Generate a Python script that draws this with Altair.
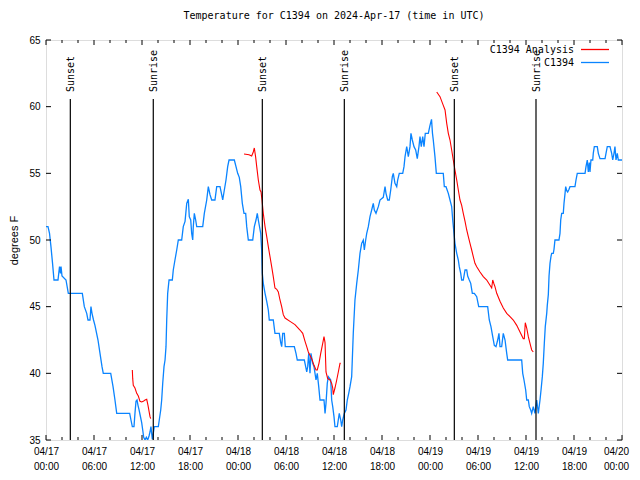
import altair as alt
import pandas as pd

TITLE = "Temperature for C1394 on 2024-Apr-17 (time in UTC)"
START = "2024-04-17T00:00:00Z"
FONT = "DejaVu Sans Mono"

# Observed C1394 temperature (hours after 04/17 00:00 UTC, degrees F)
obs_hours = [0.00, 0.25, 0.44, 0.62, 0.81, 1.00, 1.50, 1.69, 1.81, 1.88, 2.00, 2.50, 2.79, 4.54, 4.79,
             5.09, 5.25, 5.50, 5.62, 5.75, 5.94, 6.12, 6.50, 6.75, 7.00, 7.16, 8.09, 8.38, 8.62, 8.84,
             10.46, 10.62, 10.79, 11.00, 11.12, 11.25, 11.38, 11.50, 11.62, 11.79, 11.96, 12.09, 12.21,
             12.38, 12.54, 12.71, 12.88, 13.00, 13.12, 13.21, 13.29, 13.41, 13.54, 14.04, 14.16, 14.34,
             14.46, 14.59, 14.75, 14.88, 15.00, 15.09, 15.21, 15.38, 15.79, 15.91, 16.12, 16.34, 16.54,
             16.96, 17.16, 17.38, 17.59, 17.79, 17.91, 18.09, 18.21, 18.34, 18.41, 18.54, 18.71, 18.84,
             19.59, 19.79, 20.09, 20.29, 20.50, 20.71, 21.12, 21.34, 21.75, 21.96, 22.09, 22.25, 22.50,
             22.71, 22.88, 23.54, 23.75, 23.96, 24.16, 24.34, 24.54, 24.75, 24.96, 25.09, 25.29, 25.84,
             26.04, 26.25, 26.41, 26.54, 26.84, 26.96, 27.04, 27.16, 27.38, 27.59, 27.79, 27.91, 28.41,
             28.62, 29.16, 29.34, 29.46, 29.59, 29.79, 29.91, 31.04, 31.25, 31.41, 32.29, 32.46, 32.59,
             32.71, 32.84, 33.00, 33.12, 33.34, 33.50, 33.75, 33.91, 34.09, 34.25, 34.75, 34.88, 35.00,
             35.16, 35.29, 35.59, 35.71, 35.84, 36.00, 36.12, 36.41, 36.66, 36.84, 36.96, 37.09, 37.29,
             37.50, 37.66, 37.84, 38.00, 38.21, 38.41, 38.62, 38.84, 39.04, 39.25, 39.46, 39.66, 39.79,
             39.96, 40.09, 40.29, 40.50, 40.71, 40.91, 41.04, 41.25, 41.54, 41.75, 42.16, 42.38, 42.50,
             42.71, 42.91, 43.09, 43.29, 43.41, 43.62, 43.84, 43.96, 44.16, 44.59, 44.75, 44.88, 45.09,
             45.29, 45.50, 45.62, 45.79, 46.00, 46.21, 46.41, 46.62, 46.75, 46.91, 47.09, 47.25, 47.41,
             47.79, 48.00, 48.19, 48.31, 48.41, 48.62, 48.79, 49.66, 49.79, 50.00, 50.29, 50.50, 50.71,
             50.84, 51.00, 51.12, 51.34, 51.54, 51.66, 51.84, 51.96, 52.16, 52.38, 52.59, 52.71, 52.91,
             53.09, 53.29, 53.54, 53.84, 54.09, 55.21, 55.41, 55.62, 55.84, 56.04, 56.25, 56.46, 56.62,
             56.75, 56.96, 57.16, 57.38, 57.59, 57.71, 59.46, 59.59, 59.75, 59.96, 60.09, 60.29, 60.41,
             60.59, 60.71, 60.91, 61.12, 61.34, 61.54, 61.75, 61.88, 62.04, 62.16, 62.29, 62.41, 62.59,
             62.66, 62.79, 62.88, 63.00, 63.12, 63.21, 63.41, 63.50, 63.62, 64.12, 64.25, 64.34, 64.46,
             64.66, 64.75, 64.88, 64.96, 65.09, 65.21, 65.38, 65.50, 66.12, 66.25, 66.41, 67.38, 67.50,
             67.66, 67.79, 67.91, 68.00, 68.12, 68.34, 68.41, 68.54, 68.91, 69.04, 69.25, 69.88, 70.00,
             70.16, 70.50, 70.71, 70.84, 71.00, 71.12, 71.25, 71.41, 71.54, 72.00]
obs_temps = [51.0, 51.0, 50.5, 49.5, 48.3, 47.0, 47.0, 48.0, 47.5, 48.0, 47.3, 47.0, 46.0, 46.0, 45.0,
             44.5, 44.0, 44.0, 45.0, 44.5, 44.0, 43.6, 42.5, 41.5, 40.5, 40.0, 40.0, 39.0, 38.0, 37.0,
             37.0, 36.5, 36.0, 36.0, 37.0, 37.9, 38.0, 37.6, 37.3, 36.8, 36.3, 35.75, 35.2,
             35.0, 35.2, 35.0, 35.3, 35.6, 36.0, 35.5, 35.05, 35.5, 36.0, 36.0, 36.5, 37.25,
             38.0, 39.25, 40.5, 41.0, 42.0, 44.0, 46.0, 47.0, 47.0, 47.75, 48.5, 49.25, 50.0,
             50.0, 51.0, 51.4, 52.75, 53.05, 51.75, 51.5, 50.5, 50.0, 51.0, 52.0, 51.5, 51.0,
             51.0, 52.0, 53.0, 54.0, 53.4, 53.0, 53.0, 54.0, 54.0, 53.4, 53.0, 53.6, 54.5,
             55.5, 56.0, 56.0, 55.5, 55.0, 54.7, 54.0, 52.75, 52.0, 52.0, 51.0, 50.0, 50.0,
             51.0, 51.5, 52.0, 51.5, 50.5, 49.25, 47.5, 46.75, 46.0, 45.4, 44.75, 44.0, 44.0,
             43.0, 43.0, 42.3, 42.0, 43.0, 43.0, 42.0, 42.0, 41.5, 41.0, 41.0, 40.5, 40.1,
             40.5, 41.5, 40.0, 41.5, 40.75, 40.5, 39.5, 40.0, 39.0, 38.0, 38.0, 37.0, 37.75,
             39.25, 39.75, 39.5, 38.0, 37.5, 36.75, 36.0, 36.0, 37.0, 36.5, 36.0, 36.5, 37.0,
             37.25, 38.0, 38.5, 39.0, 39.75, 43.0, 45.5, 46.75, 47.75, 49.0, 49.75, 50.0, 49.25,
             50.0, 50.5, 51.0, 51.75, 52.25, 52.75, 52.25, 52.0, 52.5, 53.0, 53.2, 54.0, 53.5,
             53.0, 53.0, 53.75, 54.75, 55.0, 54.25, 54.0, 54.5, 55.0, 55.0, 55.5, 56.25, 57.0,
             56.25, 57.0, 58.0, 57.5, 57.0, 56.75, 56.1, 57.0, 57.75, 57.0, 57.75, 57.0, 58.0,
             58.0, 58.6, 59.05, 58.0, 57.5, 56.25, 55.0, 55.0, 54.0, 54.0, 53.5, 53.0, 52.5,
             51.5, 50.5, 49.75, 49.0, 48.5, 48.0, 47.5, 47.0, 47.0, 47.75, 47.75, 47.3, 47.0,
             46.75, 46.0, 46.0, 45.75, 45.0, 45.0, 44.0, 43.5, 42.75, 42.1, 42.0, 42.5, 43.0,
             42.0, 42.0, 43.0, 42.5, 41.5, 41.0, 41.0, 40.0, 39.5, 38.75, 38.0, 38.0, 37.5,
             37.25, 37.0, 37.5, 37.0, 38.0, 37.0, 38.0, 38.75, 39.75, 40.75, 42.25, 43.5, 44.5,
             45.1, 45.9, 47.3, 48.25, 48.75, 49.0, 49.0, 49.3, 50.0, 50.0, 50.5, 51.5, 52.0,
             52.0, 52.75, 53.5, 54.0, 53.7, 53.6, 53.8, 54.0, 54.0, 54.5, 55.0, 55.0, 55.5,
             56.0, 55.1, 55.8, 55.1, 56.0, 56.0, 56.5, 57.0, 57.0, 56.5, 56.1, 56.1, 56.5,
             57.0, 57.0, 56.5, 56.0, 56.5, 57.0, 56.0, 56.5, 56.0, 56.0]

# C1394 Analysis (three separate runs)
ana_hours_1 = [10.79, 10.84, 10.91, 11.12, 11.34, 11.54, 11.75, 11.96, 12.16, 12.38, 12.59, 12.75, 13.00, 13.09]
ana_temps_1 = [40.25, 39.6, 39.1, 38.9, 38.5, 38.3, 37.9, 37.85, 37.9, 38.0, 38.05, 37.6, 36.75, 36.6]
ana_hours_2 = [24.75, 25.38, 25.71, 25.91, 26.04, 26.21, 26.34, 26.54, 26.75, 26.88, 27.00, 27.16, 27.38,
               27.59, 27.79, 28.00, 28.21, 28.41, 28.62, 28.84, 29.04, 29.25, 29.46, 29.66, 29.88, 30.50,
               31.12, 31.75, 32.09, 32.38, 32.59, 32.79, 33.21, 33.50, 33.75, 33.91, 34.12, 34.34, 34.59,
               34.75, 34.88, 35.00, 35.21, 35.50, 35.71, 35.84, 35.91, 36.12, 36.34, 36.54, 36.75, 36.84]
ana_temps_2 = [56.45, 56.4, 56.3, 56.6, 56.9, 56.2, 55.5, 54.5, 53.75, 53.6, 53.0, 52.0, 51.0,
               50.25, 49.5, 48.75, 48.0, 47.25, 46.4, 46.3, 46.1, 45.5, 45.0, 44.4, 44.15, 43.9,
               43.65, 43.25, 43.0, 42.4, 42.0, 41.6, 41.1, 40.6, 40.25, 40.25, 40.75, 41.5, 42.25,
               42.75, 42.3, 40.1, 39.6, 39.5, 39.25, 38.9, 38.4, 38.9, 39.5, 40.1, 40.75, 40.75]
ana_hours_3 = [48.84, 49.25, 49.66, 49.88, 50.09, 50.29, 50.50, 50.71, 50.91, 51.12, 51.34, 51.54, 51.75,
               51.96, 52.16, 52.38, 52.59, 52.79, 53.00, 53.21, 53.41, 53.62, 53.84, 54.25, 54.66, 55.09,
               55.50, 55.71, 55.84, 56.00, 56.12, 56.34, 56.75, 57.16, 57.59, 58.00, 58.41, 58.84, 59.25,
               59.66, 59.79, 59.91, 60.09, 60.29, 60.50, 60.71, 60.91]
ana_temps_3 = [61.1, 60.75, 60.1, 59.75, 58.75, 58.0, 57.5, 56.75, 56.0, 55.25, 54.5, 53.75, 53.0,
               52.6, 52.0, 51.4, 50.75, 50.25, 49.75, 49.25, 48.75, 48.25, 48.0, 47.6, 47.25, 47.0,
               46.6, 46.4, 47.0, 46.7, 46.5, 46.0, 45.4, 44.9, 44.5, 44.25, 44.0, 43.6, 43.1,
               42.6, 42.6, 43.8, 43.4, 42.75, 42.25, 41.75, 41.6]

# Sun events
sun_hours = [3.04, 13.41, 27.04, 37.29, 51.04, 61.25]
sun_labels = ["Sunset", "Sunrise", "Sunset", "Sunrise", "Sunset", "Sunrise"]

series_names = ["C1394 Analysis", "C1394"]
series_colors = ["#ff0000", "#0a84ff"]

y_ticks = [35, 40, 45, 50, 55, 60, 65]
x_minor_hours = list(range(0, 73, 2))
x_major_hours = list(range(0, 73, 6))

base_ms = pd.Timestamp(START).value // 10**6


def to_ms(hours):
    return [base_ms + int(round(h * 3600000)) for h in hours]


obs_df = pd.DataFrame({"t": to_ms(obs_hours), "v": obs_temps})
ana_df = pd.concat([
    pd.DataFrame({"t": to_ms(h), "v": v, "run": i})
    for i, (h, v) in enumerate([(ana_hours_1, ana_temps_1), (ana_hours_2, ana_temps_2), (ana_hours_3, ana_temps_3)])
])
sun_df = pd.DataFrame({"t": to_ms(sun_hours), "label": sun_labels})
major_df = pd.DataFrame({"t": to_ms(x_major_hours)})
minor_df = pd.DataFrame({"t": to_ms([h for h in x_minor_hours if h not in x_major_hours])})
ytick_df = pd.DataFrame({"v": y_ticks})

W, H = 576, 400
last_ms = to_ms([x_major_hours[-1]])[0]

x_scale = alt.Scale(type="utc", domain=[base_ms, base_ms + 72 * 3600000])
y_scale = alt.Scale(domain=[35, 65], nice=False, zero=False)

x_axis = alt.Axis(values=to_ms(x_major_hours),
                  labelExpr="[utcFormat(datum.value, '%m/%d'), utcFormat(datum.value, '%H:%M')]",
                  title=None, ticks=False, domain=False, grid=False, labelPadding=6,
                  labelLineHeight=15, labelBaseline="top", labelAngle=0, labelFlush=False,
                  labelOverlap=False,
                  labelOffset={"condition": {"test": f"datum.value >= {last_ms}", "value": -6}, "value": 0})
y_axis = alt.Axis(values=y_ticks, title="degrees F", ticks=False, domain=False, grid=False,
                  labelPadding=6, titleX=-32, titleY=200, titleAngle=270, titleAlign="center",
                  titleBaseline="middle", titleFontWeight="normal")


def X(ax=alt.Undefined):
    return alt.X("t:T", scale=x_scale, axis=ax)


def Y(ax=alt.Undefined):
    return alt.Y("v:Q", scale=y_scale, axis=ax)


obs_line = alt.Chart(obs_df).mark_line(color=series_colors[1], strokeWidth=1.3, clip=True).encode(
    x=X(x_axis), y=Y(y_axis))
ana_line = alt.Chart(ana_df).mark_line(color=series_colors[0], strokeWidth=1.1, clip=True).encode(
    x=X(), y=Y(), detail="run:N")

sun_rule = alt.Chart(sun_df).mark_rule(color="black", strokeWidth=1.2).encode(
    x=X(), y=alt.value(59), y2=alt.value(H))
sun_text = alt.Chart(sun_df).mark_text(angle=270, align="left", baseline="middle", font=FONT,
                                       fontSize=10, color="black", dy=1).encode(
    x=X(), y=alt.value(52), text="label:N")

tick_layers = [
    alt.Chart(major_df).mark_rule(color="black").encode(x=X(), y=alt.value(H), y2=alt.value(H - 5)),
    alt.Chart(major_df).mark_rule(color="black").encode(x=X(), y=alt.value(0), y2=alt.value(5)),
    alt.Chart(minor_df).mark_rule(color="black").encode(x=X(), y=alt.value(H), y2=alt.value(H - 3)),
    alt.Chart(minor_df).mark_rule(color="black").encode(x=X(), y=alt.value(0), y2=alt.value(3)),
    alt.Chart(ytick_df).mark_rule(color="black").encode(y=Y(), x=alt.value(0), x2=alt.value(5)),
    alt.Chart(ytick_df).mark_rule(color="black").encode(y=Y(), x=alt.value(W - 5), x2=alt.value(W)),
]

legend_layers = []
for i, (name, col) in enumerate(zip(series_names, series_colors)):
    ld = pd.DataFrame({"name": [name]})
    yy = 9.5 + 13 * i
    legend_layers.append(alt.Chart(ld).mark_text(align="right", baseline="middle", font=FONT,
                                                 fontSize=10, color="black").encode(
        x=alt.value(528), y=alt.value(yy), text="name:N"))
    legend_layers.append(alt.Chart(ld).mark_rule(color=col, strokeWidth=1.3).encode(
        x=alt.value(535), x2=alt.value(563), y=alt.value(yy)))

chart = alt.layer(obs_line, ana_line, sun_rule, sun_text, *tick_layers, *legend_layers).properties(
    width=W, height=H,
    title=alt.TitleParams(TITLE, font=FONT, fontSize=10, fontWeight="normal", color="black",
                          anchor="middle", offset=14),
    autosize=alt.AutoSizeParams(type="none"),
    padding={"left": 38, "top": 32, "right": 10, "bottom": 32},
).configure_view(stroke="black", strokeWidth=1).configure_axis(
    labelFont=FONT, labelFontSize=10, labelColor="black", titleFont=FONT, titleFontSize=10,
    titleColor="black"
).configure(background="white")

chart.save("out.html", embed_options={"renderer": "svg", "actions": False})
